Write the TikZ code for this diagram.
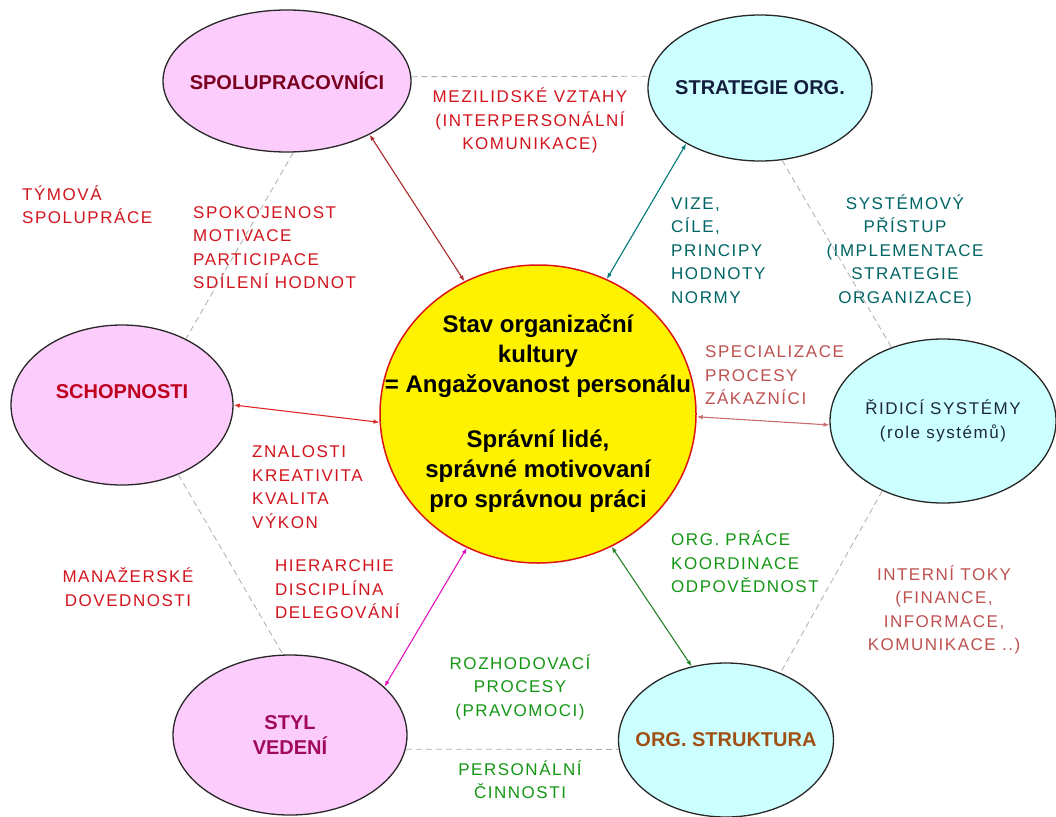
\documentclass[tikz,border=0pt]{standalone}
\usepackage{fontspec}
\setmainfont{Liberation Sans}
\newfontfamily\labfont[LetterSpace=9]{Liberation Sans}
\usepackage{tikz}
\usetikzlibrary{arrows.meta,shapes.geometric}
\definecolor{pinkfill}{RGB}{252,204,252}
\definecolor{cyanfill}{RGB}{204,255,255}
\definecolor{ellborder}{RGB}{40,40,40}
\definecolor{labred}{RGB}{210,20,30}
\definecolor{labteal}{RGB}{0,100,100}
\definecolor{labrose}{RGB}{190,80,80}
\definecolor{labgreen}{RGB}{20,150,20}
\definecolor{spolcol}{RGB}{122,0,32}
\definecolor{stratcol}{RGB}{20,30,60}
\definecolor{schopcol}{RGB}{190,0,30}
\definecolor{ridiccol}{RGB}{30,40,60}
\definecolor{stylcol}{RGB}{160,10,90}
\definecolor{orgcol}{RGB}{160,80,20}
\tikzset{
  pinkell/.style={ellipse, draw=ellborder, line width=1.3pt, fill=pinkfill, inner sep=0pt},
  cyanell/.style={ellipse, draw=ellborder, line width=1.3pt, fill=cyanfill, inner sep=0pt},
  corebox/.style={ellipse, draw={rgb,255:red,220;green,20;blue,20}, line width=1.5pt, fill=yellow, inner sep=0pt},
  headlabel/.style={font=\fontsize{20}{25}\selectfont\bfseries, align=center, inner sep=0pt},
  corelabel/.style={font=\fontsize{24}{30}\selectfont\bfseries, align=center, inner sep=0pt},
  sidetext/.style={font=\labfont\fontsize{17}{23.5}\selectfont, inner sep=0pt},
  lefttext/.style={sidetext, align=left, anchor=west},
  midtext/.style={sidetext, align=center},
  link/.style={{Latex[length=6pt,width=4.5pt]}-{Latex[length=6pt,width=4.5pt]}, line width=1.1pt},
  dashlink/.style={draw=gray!65, dash pattern=on 6pt off 4pt, line width=0.8pt}
}
\begin{document}
\begin{tikzpicture}[x=1pt, y=-1pt]
  \useasboundingbox (0,0) rectangle (1056,816);
  \node[corebox, minimum width=316pt, minimum height=298pt,
    label={[corelabel]center:{Stav organizační\\kultury\\= Angažovanost personálu\\[25pt]Správní lidé,\\správné motivovaní\\pro správnou práci}}] (cen) at (538,414) {};
  \node[pinkell, minimum width=248pt, minimum height=142pt,
    label={[headlabel, text=spolcol]center:SPOLUPRACOVNÍCI}] (spol) at (287,81) {};
  \node[cyanell, minimum width=224pt, minimum height=146pt,
    label={[headlabel, text=stratcol]center:STRATEGIE ORG.}] (strat) at (760,88) {};
  \node[pinkell, minimum width=222pt, minimum height=160pt,
    label={[headlabel, text=schopcol, yshift=13pt]center:SCHOPNOSTI}] (schop) at (122,405) {};
  \node[cyanell, minimum width=226pt, minimum height=164pt,
    label={[sidetext, align=center, text=ridiccol]center:{ŘIDICÍ SYSTÉMY\\(role systémů)}}] (ridic) at (943,421) {};
  \node[pinkell, minimum width=234pt, minimum height=160pt,
    label={[headlabel, text=stylcol]center:{STYL\\VEDENÍ}}] (styl) at (290,735) {};
  \node[cyanell, minimum width=215pt, minimum height=154pt,
    label={[headlabel, text=orgcol]center:ORG. STRUKTURA}] (org) at (726,740) {};

  \node[midtext, text=labred] (mezi) at (530,120.5) {MEZILIDSKÉ VZTAHY\\(INTERPERSONÁLNÍ\\KOMUNIKACE)};
  \node[lefttext, text=labred] (tym) at (22,204.5) {TÝMOVÁ\\SPOLUPRÁCE};
  \node[lefttext, text=labred] (spok) at (193,247.5) {SPOKOJENOST\\MOTIVACE\\PARTICIPACE\\SDÍLENÍ HODNOT};
  \node[lefttext, text=labteal] (vize) at (671,250.5) {VIZE,\\CÍLE,\\PRINCIPY\\HODNOTY\\NORMY};
  \node[midtext, text=labteal] (syst) at (905,250.5) {SYSTÉMOVÝ\\PŘÍSTUP\\(IMPLEMENTACE\\STRATEGIE\\ORGANIZACE)};
  \node[lefttext, text=labrose] (spec) at (705,375.5) {SPECIALIZACE\\PROCESY\\ZÁKAZNÍCI};
  \node[lefttext, text=labred] (znal) at (252,487) {ZNALOSTI\\KREATIVITA\\KVALITA\\VÝKON};
  \node[midtext, text=labred] (manaz) at (128,587) {MANAŽERSKÉ\\DOVEDNOSTI};
  \node[lefttext, text=labred] (hier) at (275,589.5) {HIERARCHIE\\DISCIPLÍNA\\DELEGOVÁNÍ};
  \node[lefttext, text=labgreen] (orgp) at (671,562) {ORG. PRÁCE\\KOORDINACE\\ODPOVĚDNOST};
  \node[midtext, text=labrose] (toky) at (944,610) {INTERNÍ TOKY\\(FINANCE,\\INFORMACE,\\KOMUNIKACE ..)};
  \node[midtext, text=labgreen] (rozh) at (520,687) {ROZHODOVACÍ\\PROCESY\\(PRAVOMOCI)};
  \node[midtext, text=labgreen] (pers) at (520,779.5) {PERSONÁLNÍ\\ČINNOSTI};

  \draw[dashlink] (spol.2) -- (strat.174);
  \draw[dashlink] (spol.-85) -- (schop.46);
  \draw[dashlink] (schop.-51) -- (styl.95);
  \draw[dashlink] (strat.-73) -- (ridic.125);
  \draw[dashlink] (ridic.-131) -- (org.51);
  \draw[dashlink] (styl.-7) -- (org.185);

  \draw[link, draw={rgb,255:red,170;green,40;blue,40}] (spol.-33) -- (cen.119);
  \draw[link, draw={rgb,255:red,0;green,120;blue,120}] (strat.-143) -- (cen.63);
  \draw[link, draw={rgb,255:red,220;green,40;blue,40}] (schop.0) -- (cen.183);
  \draw[link, draw={rgb,255:red,200;green,110;blue,110}] (cen.-1) -- (ridic.182);
  \draw[link, draw={rgb,255:red,230;green,20;blue,190}] (cen.-118) -- (styl.27);
  \draw[link, draw={rgb,255:red,40;green,130;blue,40}] (cen.-61) -- (org.115);
\end{tikzpicture}
\end{document}
